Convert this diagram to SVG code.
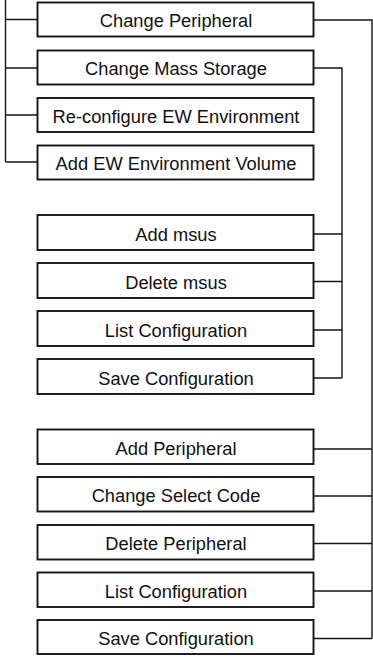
<svg xmlns="http://www.w3.org/2000/svg" width="373" height="657" viewBox="0 0 373 657">
  <style>
    .box rect { fill: #ffffff; stroke: #151515; stroke-width: 1.9; }
    .box text { font-family: "Liberation Sans", Arial, Helvetica, sans-serif; font-size: 18.3px; fill: #111111; text-anchor: middle; }
    #connectors path { fill: none; stroke: #151515; stroke-width: 1.4; }
  </style>
  <rect x="0" y="0" width="373" height="657" fill="#ffffff"/>

  <!-- connectors: left bracket for the top menu, two right-hand trunks for the submenus -->
  <g id="connectors">
    <path d="M5.5 0 V162 M5.5 19.5 H37.5 M5.5 68 H37.5 M5.5 115 H37.5 M5.5 162 H37.5"/>
    <path d="M313.5 68 H342 V378 M313.5 234 H342 M313.5 281.5 H342 M313.5 330 H342 M313.5 378 H342"/>
    <path d="M313.5 20 H372 V638.5 M313.5 449 H372 M313.5 496 H372 M313.5 543.5 H372 M313.5 591 H372 M313.5 638.5 H372"/>
  </g>

  <!-- top menu -->
  <g id="change-peripheral" class="box">
    <rect x="37.5" y="2.5" width="276" height="34"/>
    <text x="176" y="27">Change Peripheral</text>
  </g>
  <g id="change-mass-storage" class="box">
    <rect x="37.5" y="50.5" width="276" height="34"/>
    <text x="176" y="75">Change Mass Storage</text>
  </g>
  <g id="reconfigure-ew" class="box">
    <rect x="37.5" y="98" width="276" height="34"/>
    <text x="176" y="122.5">Re-configure EW Environment</text>
  </g>
  <g id="add-ew-volume" class="box">
    <rect x="37.5" y="145.5" width="276" height="34"/>
    <text x="176" y="170">Add EW Environment Volume</text>
  </g>

  <!-- mass storage submenu -->
  <g id="add-msus" class="box">
    <rect x="37.5" y="215" width="276" height="35"/>
    <text x="176" y="240.5">Add msus</text>
  </g>
  <g id="delete-msus" class="box">
    <rect x="37.5" y="263" width="276" height="35"/>
    <text x="176" y="288.5">Delete msus</text>
  </g>
  <g id="list-config-msus" class="box">
    <rect x="37.5" y="311" width="276" height="35"/>
    <text x="176" y="336.5">List Configuration</text>
  </g>
  <g id="save-config-msus" class="box">
    <rect x="37.5" y="359" width="276" height="35"/>
    <text x="176" y="384.5">Save Configuration</text>
  </g>

  <!-- peripheral submenu -->
  <g id="add-peripheral" class="box">
    <rect x="37.5" y="429.5" width="276" height="34.5"/>
    <text x="176" y="454.5">Add Peripheral</text>
  </g>
  <g id="change-select-code" class="box">
    <rect x="37.5" y="477" width="276" height="34.5"/>
    <text x="176" y="502">Change Select Code</text>
  </g>
  <g id="delete-peripheral" class="box">
    <rect x="37.5" y="525" width="276" height="34.5"/>
    <text x="176" y="550">Delete Peripheral</text>
  </g>
  <g id="list-config-periph" class="box">
    <rect x="37.5" y="572.5" width="276" height="34.5"/>
    <text x="176" y="597.5">List Configuration</text>
  </g>
  <g id="save-config-periph" class="box">
    <rect x="37.5" y="620" width="276" height="34"/>
    <text x="176" y="644.5">Save Configuration</text>
  </g>
</svg>
